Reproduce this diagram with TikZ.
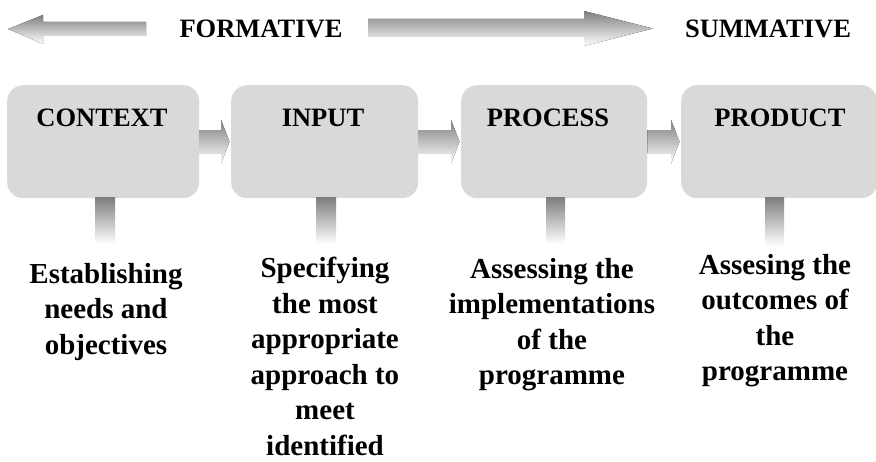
\documentclass[tikz,border=0pt]{standalone}
\usepackage{fontspec}
\setmainfont{Liberation Serif}
\usetikzlibrary{calc}
\definecolor{shade}{HTML}{D9D9D9}
\tikzset{
  stagebox/.style={fill=shade, rounded corners=16pt, inner sep=0pt, anchor=north west},
  stagetitle/.style={font=\fontsize{26.5}{30}\selectfont\bfseries, anchor=base, inner sep=0pt},
  toplabel/.style={font=\fontsize{26.5}{30}\selectfont\bfseries, anchor=base, inner sep=0pt},
  desc/.style={font=\fontsize{29}{35.5}\selectfont\bfseries, align=center, anchor=north, inner sep=0pt},
}
\newcommand{\fatarrow}[2]{%
  \fill[shade] let \p1=(#1.east), \p2=(#2.west) in
    (\x1,\y1+11.5pt) -- (\x2-10pt,\y1+11.5pt) -- (\x2-10pt,\y1+22pt) -- (\x2-1.5pt,\y1)
    -- (\x2-10pt,\y1-22pt) -- (\x2-10pt,\y1-11.5pt) -- (\x1,\y1-11.5pt) -- cycle;}
\begin{document}
\begin{tikzpicture}[x=1pt,y=-1pt]
\useasboundingbox (0,0) rectangle (876,462);
% top arrows
\fill[shade] (8,29) -- (43,15) -- (43,22) -- (146,22) -- (146,36) -- (43,36) -- (43,44) -- cycle;
\fill[shade] (368,19) -- (584,19) -- (584,11) -- (653,28.5) -- (584,46) -- (584,37) -- (368,37) -- cycle;
\node[toplabel] (form) at (261,38) {FORMATIVE};
\node[toplabel] (summ) at (768,38) {SUMMATIVE};
% boxes
\node[stagebox, minimum width=192pt, minimum height=113pt] (ctx) at (7,85) {};
\node[stagebox, minimum width=187pt, minimum height=113pt] (inp) at (231,85) {};
\node[stagebox, minimum width=186pt, minimum height=113pt] (proc) at (461,85) {};
\node[stagebox, minimum width=196pt, minimum height=113pt] (prod) at (681,85) {};
% stems
\fill[shade] (95,198) rectangle (115,244);
\fill[shade] (316,198) rectangle (336,244);
\fill[shade] (546,198) rectangle (565,244);
\fill[shade] (765,198) rectangle (784,246);
% arrows between boxes
\fatarrow{ctx}{inp}
\fatarrow{inp}{proc}
\fatarrow{proc}{prod}
% titles
\node[stagetitle] (tctx) at (102,127) {CONTEXT};
\node[stagetitle] (tinp) at (323,127) {INPUT};
\node[stagetitle] (tproc) at (548,127) {PROCESS};
\node[stagetitle] (tprod) at (780,127) {PRODUCT};
% descriptions
\node[desc] (dctx) at (106,263) {Establishing\\needs and\\objectives};
\node[desc] (dinp) at (325,257) {Specifying\\the most\\appropriate\\approach to\\meet\\identified};
\node[desc] (dproc) at (552,258) {Assessing the\\implementations\\of the\\programme};
\node[desc] (dprod) at (775,254) {Assesing the\\outcomes of\\the\\programme};
\end{tikzpicture}
\end{document}
